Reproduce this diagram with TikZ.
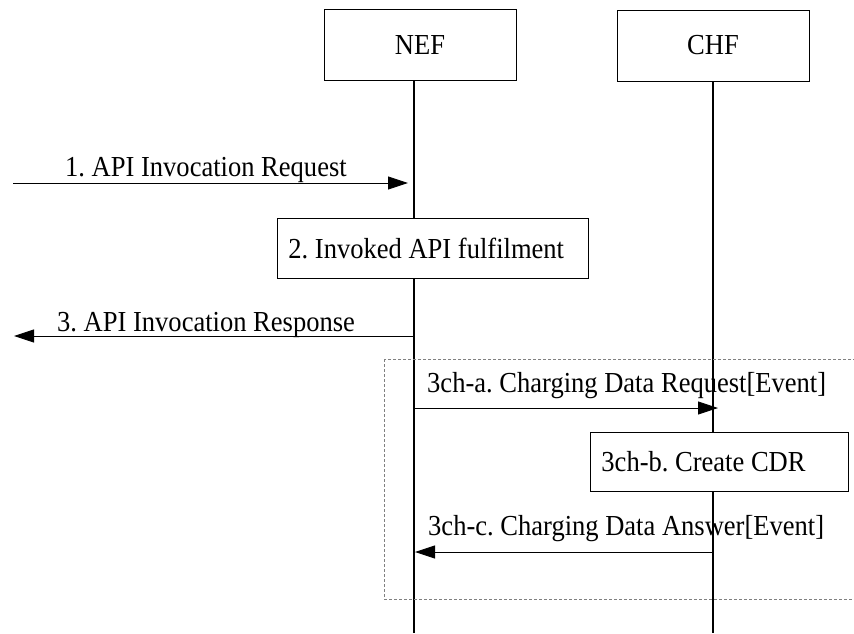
\documentclass[tikz,border=0pt]{standalone}
\usepackage{fontspec}
\setmainfont{Liberation Serif}[FakeStretch=0.915]
\usetikzlibrary{arrows.meta}
\frenchspacing

\begin{document}
\begin{tikzpicture}[x=1pt, y=-1pt,
    font=\fontsize{29}{34}\selectfont,
    entity/.style={draw, line width=0.9pt, minimum width=192pt, minimum height=71pt, inner sep=0pt},
    action/.style={draw, fill=white, line width=0.9pt, anchor=north west, inner ysep=0pt, inner xsep=11pt,
        align=flush left, text height=19.8pt, text depth=0pt},
    lifeline/.style={line width=1.4pt},
    msg/.style={line width=0.9pt, -{Triangle[length=20pt, width=13pt]}},
    msgtext/.style={anchor=base west, inner sep=0pt}]
		\useasboundingbox (0,0) rectangle (854,633);
		% entities
		\node[entity] (nef) at (420,45) {NEF};
		\node[entity] (chf) at (713,45.5) {CHF};
		% lifelines
		\coordinate (nefEnd) at (414,633);
		\coordinate (chfEnd) at (713,633);
		\draw[lifeline] (nef.south -| nefEnd) -- (nefEnd);
		\draw[lifeline] (chf.south) -- (chfEnd);
		% charging part
		\draw[gray, line width=0.8pt, dash pattern=on 3pt off 2pt] (384,359) rectangle (870,599);
		% messages
		\coordinate (req) at (13,183);
		\coordinate (reqEnd) at (408,183);
		\draw[msg] (req) -- (reqEnd);
		\node[msgtext] (reqText) at (65,176) {1. API Invocation Request};
		\coordinate (resp) at (14,336);
		\draw[msg] (resp -| nefEnd) -- (resp);
		\node[msgtext] (respText) at (57,331) {3. API Invocation Response};
		\coordinate (cdrReq) at (718,408);
		\draw[msg] (cdrReq -| nefEnd) -- (cdrReq);
		\node[msgtext] (cdrReqText) at (427,392) {3ch-a. Charging Data Request[Event]};
		\coordinate (cdrAns) at (415,552);
		\draw[msg] (cdrAns -| chfEnd) -- (cdrAns);
		\node[msgtext] (cdrAnsText) at (428,535) {3ch-c. Charging Data Answer[Event]};
		% actions
		\node[action, text width=289pt, minimum height=60pt] (fulfil) at (277,218) {2. Invoked API fulfilment};
		\node[action, text width=236pt, minimum height=59pt] (cdr) at (590,432) {3ch-b. Create CDR};
	\end{tikzpicture}
\end{document}
